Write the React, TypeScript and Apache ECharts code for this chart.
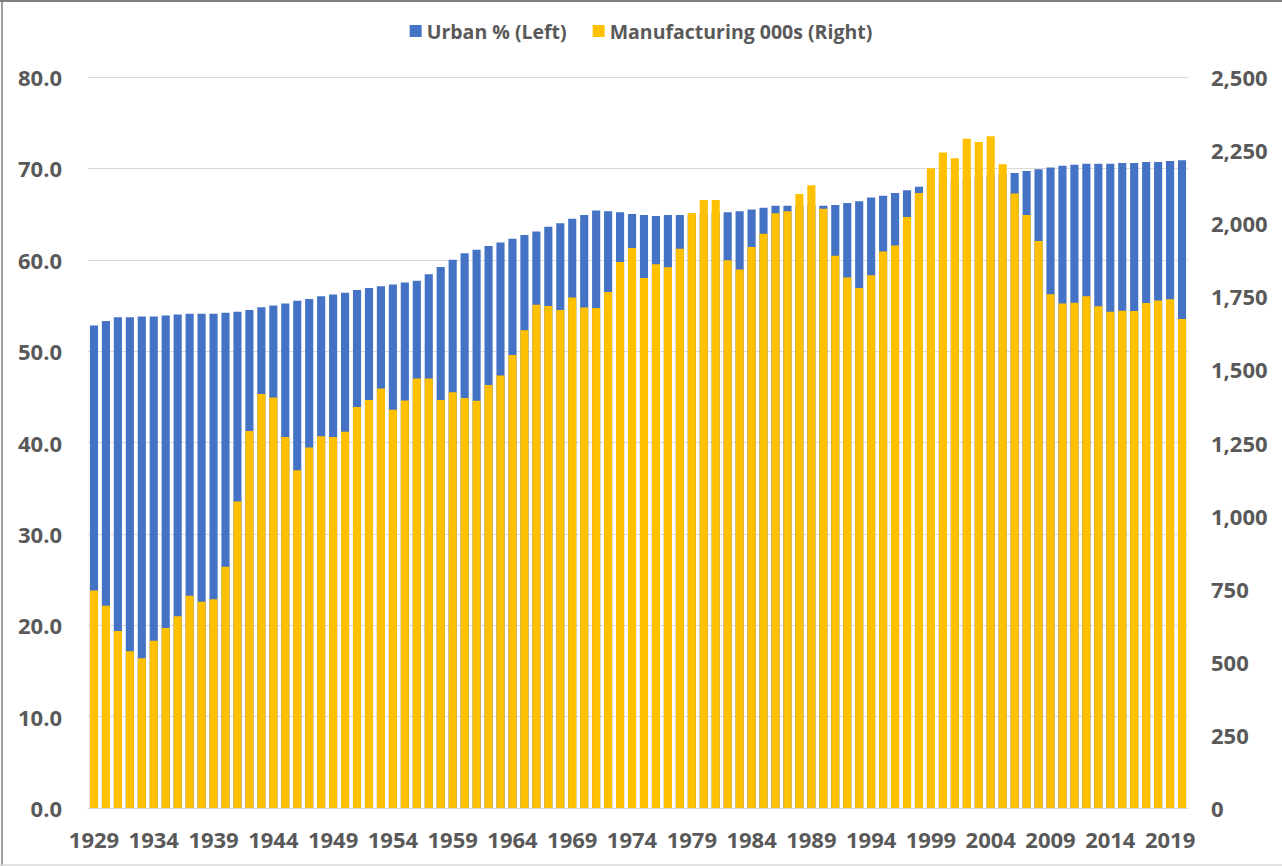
import React, { useEffect, useRef } from "react";
import * as echarts from "echarts";

const years: string[] = [];
for (let y = 1929; y <= 2020; y++) years.push(String(y));

const urbanPct: number[] = [
  52.8, 53.3, 53.7, 53.7, 53.8, 53.8, 53.9, 54.0, 54.1, 54.1,
  54.1, 54.2, 54.3, 54.5, 54.8, 55.0, 55.2, 55.5, 55.7, 56.0,
  56.2, 56.4, 56.7, 56.9, 57.1, 57.3, 57.5, 57.7, 58.4, 59.2,
  60.0, 60.7, 61.1, 61.5, 61.9, 62.3, 62.7, 63.1, 63.6, 64.0,
  64.5, 64.9, 65.4, 65.3, 65.2, 65.0, 64.9, 64.8, 64.9, 64.9,
  64.9, 65.0, 65.1, 65.2, 65.3, 65.5, 65.7, 65.9, 65.9, 65.9,
  66.0, 65.9, 66.0, 66.2, 66.4, 66.8, 67.0, 67.3, 67.6, 68.0,
  68.3, 68.5, 68.7, 68.9, 69.1, 69.2, 69.4, 69.5, 69.7, 69.9,
  70.1, 70.3, 70.4, 70.5, 70.5, 70.5, 70.6, 70.6, 70.7, 70.7,
  70.8, 70.9,
];

const manufacturing: number[] = [
  744, 692, 605, 536, 512, 572, 616, 656, 726, 705,
  714, 825, 1048, 1289, 1416, 1404, 1269, 1155, 1233, 1271,
  1269, 1287, 1371, 1395, 1435, 1362, 1394, 1469, 1469, 1395,
  1422, 1402, 1393, 1447, 1479, 1549, 1634, 1721, 1717, 1703,
  1746, 1712, 1710, 1765, 1867, 1915, 1813, 1860, 1849, 1913,
  2035, 2079, 2079, 1873, 1842, 1919, 1964, 2034, 2041, 2100,
  2130, 2049, 1889, 1814, 1778, 1822, 1903, 1924, 2021, 2103,
  2188, 2242, 2222, 2289, 2278, 2297, 2202, 2102, 2028, 1939,
  1757, 1725, 1728, 1750, 1716, 1697, 1701, 1700, 1727, 1736,
  1740, 1672,
];

const seriesNames = ["Urban % (Left)", "Manufacturing 000s (Right)"];

const TEXT = "#595959";
const FONT = "'Open Sans', 'Noto Sans', sans-serif";

export default function App() {
  const ref = useRef<HTMLDivElement>(null);
  useEffect(() => {
    if (!ref.current) return;
    const chart = echarts.init(ref.current, undefined, { renderer: "svg" });
    chart.setOption({
      animation: false,
      backgroundColor: "#ffffff",
      textStyle: { fontFamily: FONT },
      legend: {
        data: seriesNames,
        top: 16,
        left: "center",
        itemWidth: 12,
        itemHeight: 12,
        itemGap: 26,
        icon: "rect",
        textStyle: { color: TEXT, fontSize: 19.5, fontWeight: "bold", fontFamily: FONT },
      },
      grid: { left: 88, right: 94, top: 77, bottom: 58, containLabel: false },
      xAxis: {
        type: "category",
        data: years,
        axisTick: { show: false },
        axisLine: { lineStyle: { color: "#d9d9d9", width: 1 } },
        axisLabel: {
          interval: 4,
          color: TEXT,
          fontSize: 22,
          fontWeight: "bold",
          fontFamily: FONT,
          margin: 20,
        },
      },
      yAxis: [
        {
          type: "value",
          min: 0,
          max: 80,
          interval: 10,
          axisLine: { show: false },
          axisTick: { show: false },
          splitLine: { lineStyle: { color: "#d9d9d9", width: 1 } },
          axisLabel: {
            color: TEXT,
            fontSize: 22,
            fontWeight: "bold",
            fontFamily: FONT,
            margin: 26,
            formatter: (v: number) => v.toFixed(1),
          },
        },
        {
          type: "value",
          min: 0,
          max: 2500,
          interval: 250,
          position: "right",
          axisLine: { show: false },
          axisTick: { show: false },
          splitLine: { show: false },
          axisLabel: {
            color: TEXT,
            fontSize: 22,
            fontWeight: "bold",
            fontFamily: FONT,
            margin: 23,
            align: "left",
            formatter: (v: number) => v.toString().replace(/\B(?=(\d{3})+(?!\d))/g, ","),
          },
        },
      ],
      series: [
        {
          name: seriesNames[0],
          type: "bar",
          yAxisIndex: 0,
          data: urbanPct,
          barCategoryGap: "32%",
          barGap: "-100%",
          itemStyle: { color: "#4472C4" },
        },
        {
          name: seriesNames[1],
          type: "bar",
          yAxisIndex: 1,
          data: manufacturing,
          barCategoryGap: "32%",
          barGap: "-100%",
          itemStyle: { color: "#FFC000" },
        },
      ],
      graphic: [
        { type: "line", shape: { x1: 0, y1: 1, x2: 1282, y2: 1 }, style: { stroke: "#7f7f7f", lineWidth: 2 } },
        { type: "line", shape: { x1: 2, y1: 0, x2: 2, y2: 866 }, style: { stroke: "#7f7f7f", lineWidth: 1.5 } },
        { type: "line", shape: { x1: 0, y1: 865, x2: 1282, y2: 865 }, style: { stroke: "#d9d9d9", lineWidth: 1.5 } },
      ],
    });
    return () => chart.dispose();
  }, []);
  return (
    <div
      ref={ref}
      style={{ position: "fixed", left: 0, top: 0, width: 1282, height: 866 }}
    />
  );
}
